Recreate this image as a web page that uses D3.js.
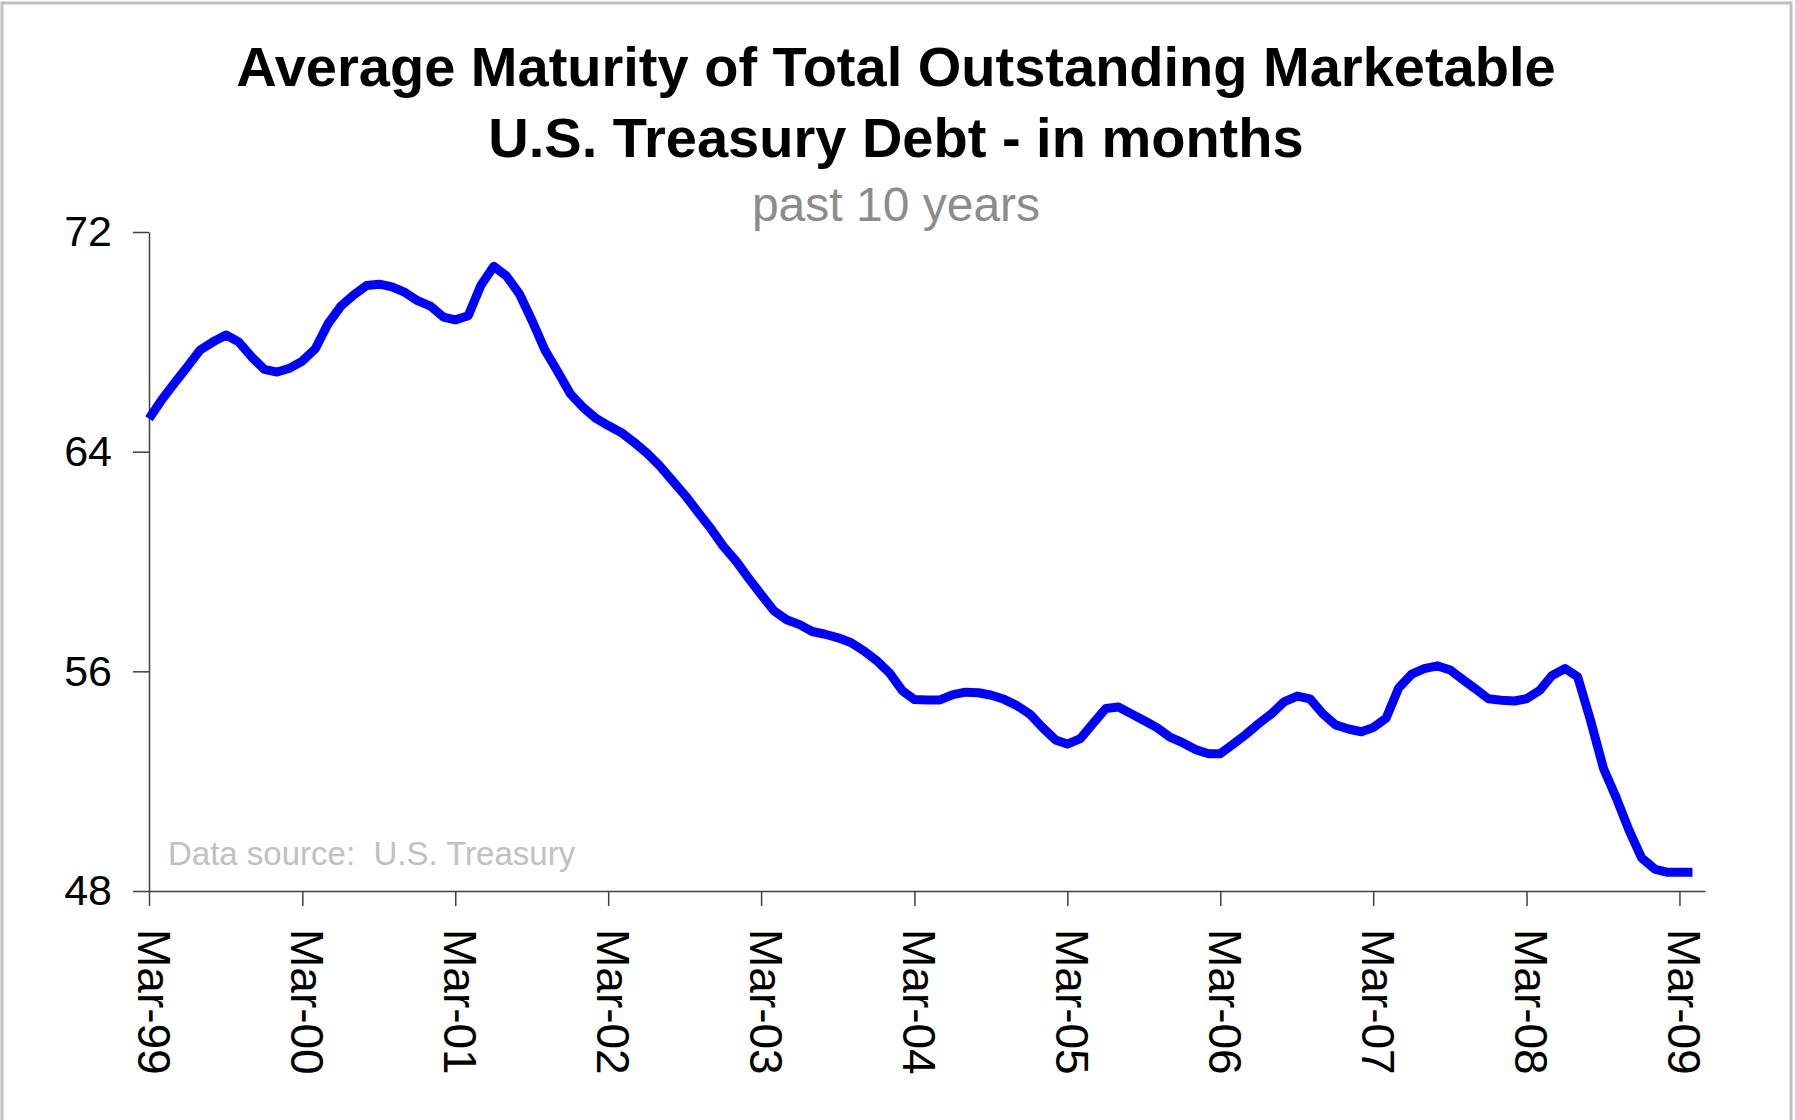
<!DOCTYPE html>
<html>
<head>
<meta charset="utf-8">
<script src="https://cdn.jsdelivr.net/npm/d3@7"></script>
<style>
  body { margin: 0; background: #fff; }
  text { font-family: "Liberation Sans", Arial, sans-serif; }
</style>
</head>
<body>
<div class="container"></div>
<script>
// monthly values, Mar-99 .. Apr-09 (months)
var maturity = [
  65.2, 65.9, 66.5, 67.1, 67.7, 68.0, 68.25, 68.0, 67.45, 67.0, 66.9, 67.05,
  67.3, 67.75, 68.65, 69.3, 69.7, 70.05, 70.1, 70.0, 69.8, 69.5, 69.3, 68.9,
  68.8, 68.95, 70.05, 70.75, 70.4, 69.75, 68.75, 67.7, 66.9, 66.1, 65.6, 65.2,
  64.95, 64.7, 64.35, 63.95, 63.5, 62.95, 62.4, 61.8, 61.2, 60.55, 60.0, 59.35,
  58.8, 58.2, 57.88, 57.7, 57.45, 57.35, 57.22, 57.05, 56.75, 56.4, 55.95, 55.3,
  54.97, 54.96, 54.96, 55.15, 55.24, 55.22, 55.13, 54.98, 54.75, 54.45, 53.95, 53.5,
  53.35, 53.55, 54.1, 54.65, 54.7, 54.45, 54.2, 53.95, 53.6, 53.4, 53.15, 53.0,
  53.0, 53.35, 53.7, 54.1, 54.45, 54.9, 55.1, 55.0, 54.45, 54.05, 53.9, 53.8,
  53.95, 54.3, 55.4, 55.9, 56.1, 56.2, 56.05, 55.7, 55.35, 55.0, 54.95, 54.92,
  55.0, 55.3, 55.85, 56.1, 55.8, 54.2, 52.45, 51.4, 50.2, 49.2, 48.8, 48.68,
  48.68, 48.68
];
var startMonth = new Date(1999, 2, 1);
var yTicks = [48, 56, 64, 72];
var xTickYears = [1999, 2000, 2001, 2002, 2003, 2004, 2005, 2006, 2007, 2008, 2009];

var titleLines = ["Average Maturity of Total Outstanding Marketable", "U.S. Treasury Debt - in months"];
var subtitle = "past 10 years";
var sourceNote = "Data source:  U.S. Treasury";

var width = 1795, height = 1120;

const svg = d3.select(".container").append("svg")
  .attr("width", width)
  .attr("height", height);

// outer frame
svg.append("rect")
  .attr("x", 2).attr("y", 3)
  .attr("width", 1789).attr("height", 1200)
  .attr("fill", "#fff")
  .attr("stroke", "#c0c0c0")
  .attr("stroke-width", 3);

var data = maturity.map(function (v, i) {
  return { date: d3.timeMonth.offset(startMonth, i), value: v };
});

var x = d3.scaleTime()
  .domain([startMonth, new Date(2009, 4, 1)])
  .range([149, 1705]);

var y = d3.scaleLinear()
  .domain([48, 72])
  .range([891, 232]);

// titles
svg.append("text")
  .attr("x", 896).attr("y", 86)
  .attr("text-anchor", "middle")
  .style("font-size", "56px").style("font-weight", "bold")
  .text(titleLines[0]);
svg.append("text")
  .attr("x", 896).attr("y", 157)
  .attr("text-anchor", "middle")
  .style("font-size", "56px").style("font-weight", "bold")
  .text(titleLines[1]);
svg.append("text")
  .attr("x", 896).attr("y", 221)
  .attr("text-anchor", "middle")
  .style("font-size", "48px")
  .attr("fill", "#8c8c8c")
  .text(subtitle);

// y axis
var yAxis = svg.append("g")
  .attr("transform", "translate(149,0)")
  .call(d3.axisLeft(y).tickValues(yTicks).tickSize(16).tickSizeOuter(0).tickPadding(21));
yAxis.selectAll("text").style("font-size", "43px").attr("fill", "#000")
  .style("font-family", "'Liberation Sans', Arial, sans-serif");
yAxis.selectAll("line, path").attr("stroke", "#404040").attr("stroke-width", 1.5);

// x axis
var xAxis = svg.append("g")
  .attr("transform", "translate(0,891)")
  .call(d3.axisBottom(x)
    .tickValues(xTickYears.map(function (yr) { return new Date(yr, 2, 1); }))
    .tickFormat(d3.timeFormat("%b-%y"))
    .tickSize(15).tickSizeOuter(0));
xAxis.selectAll("line, path").attr("stroke", "#404040").attr("stroke-width", 1.5);
xAxis.selectAll("text")
  .style("font-size", "46px").attr("fill", "#000")
  .style("font-family", "'Liberation Sans', Arial, sans-serif")
  .attr("text-anchor", "start")
  .attr("y", 0).attr("dy", 12).attr("x", 38)
  .attr("transform", "rotate(90)");

// source note
svg.append("text")
  .attr("x", 168).attr("y", 865)
  .style("font-size", "33px")
  .style("white-space", "pre")
  .attr("fill", "#c0c0c0")
  .text(sourceNote);

// line
svg.append("path")
  .datum(data)
  .attr("fill", "none")
  .attr("stroke", "#0000ff")
  .attr("stroke-width", 9)
  .attr("stroke-linejoin", "round")
  .attr("d", d3.line()
    .x(function (d) { return x(d.date); })
    .y(function (d) { return y(d.value); }));
</script>
</body>
</html>
